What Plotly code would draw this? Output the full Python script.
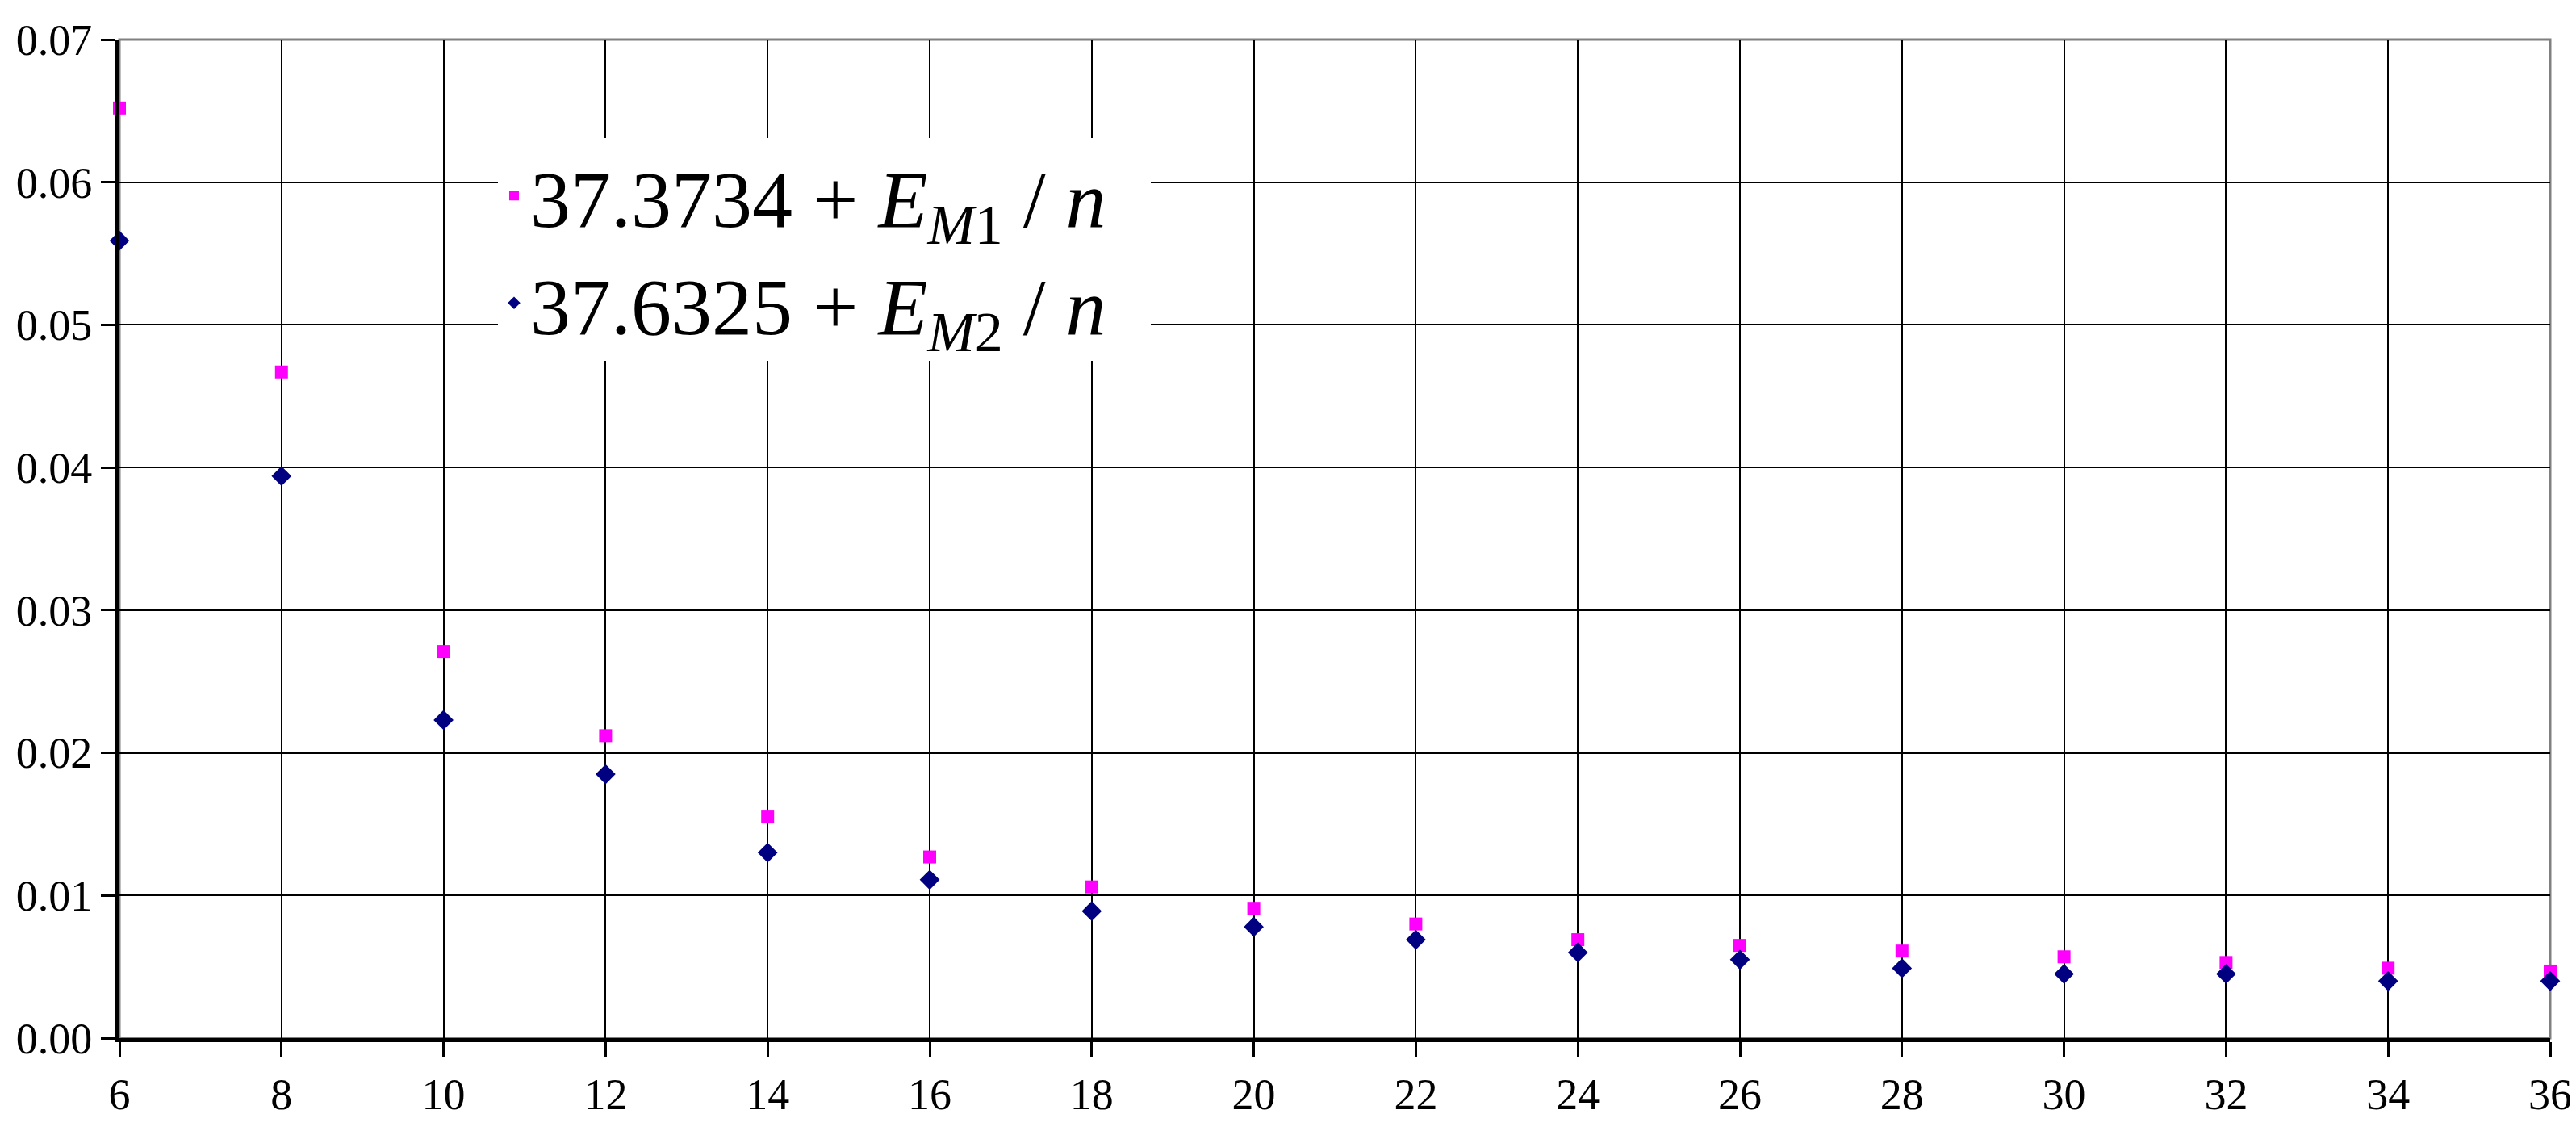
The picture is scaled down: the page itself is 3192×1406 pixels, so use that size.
import plotly.graph_objects as go

n = [6, 8, 10, 12, 14, 16, 18, 20, 22, 24, 26, 28, 30, 32, 34, 36]
em1 = [0.0652, 0.0467, 0.0271, 0.0212, 0.0155, 0.0127, 0.0106, 0.0091,
       0.0080, 0.0069, 0.0065, 0.0061, 0.0057, 0.0053, 0.0049, 0.0047]
em2 = [0.0559, 0.0394, 0.0223, 0.0185, 0.0130, 0.0111, 0.0089, 0.0078,
       0.0069, 0.0060, 0.0055, 0.0049, 0.0045, 0.0045, 0.0040, 0.0040]
name1 = "37.3734 + <i>E</i><sub><i>M</i>1</sub> / <i>n</i>  "
name2 = "37.6325 + <i>E</i><sub><i>M</i>2</sub> / <i>n</i>  "
yticks = [0, 0.01, 0.02, 0.03, 0.04, 0.05, 0.06, 0.07]

fig = go.Figure()
fig.add_trace(go.Scatter(x=n, y=em1, mode="markers", name=name1,
                         marker=dict(symbol="square", size=16, color="#FF00FF"),
                         cliponaxis=False))
fig.add_trace(go.Scatter(x=n, y=em2, mode="markers", name=name2,
                         marker=dict(symbol="diamond", size=19, color="#000080"),
                         cliponaxis=False))

font = dict(family="Liberation Serif", color="black")
fig.update_layout(
    width=3192, height=1406, paper_bgcolor="white", plot_bgcolor="white",
    margin=dict(l=138, r=40, t=37, b=128),
    font=dict(size=56, **font),
    showlegend=True,
    legend=dict(x=0.29, y=0.79, xanchor="center", yanchor="middle",
                bgcolor="white", borderwidth=0, font=dict(size=100, **font),
                itemsizing="constant", tracegroupgap=30),
    xaxis=dict(range=[6, 36], tickmode="array", tickvals=n, showgrid=True,
               gridcolor="black", gridwidth=2, showline=True, linecolor="black",
               linewidth=5, ticks="outside", ticklen=18, tickwidth=3,
               tickcolor="black", zeroline=False, tickfont=dict(size=54, **font)),
    yaxis=dict(range=[0, 0.07], tickmode="array", tickvals=yticks,
               ticktext=[f"{v:.2f}" for v in yticks], showgrid=True,
               gridcolor="black", gridwidth=2, showline=True, linecolor="black",
               linewidth=5, ticks="outside", ticklen=18, tickwidth=3,
               tickcolor="black", zeroline=False, tickfont=dict(size=54, **font)),
    shapes=[dict(type="rect", xref="paper", yref="paper", x0=0, y0=0, x1=1, y1=1,
                 line=dict(color="#808080", width=3), layer="below")],
)
fig.write_html("out.html")
